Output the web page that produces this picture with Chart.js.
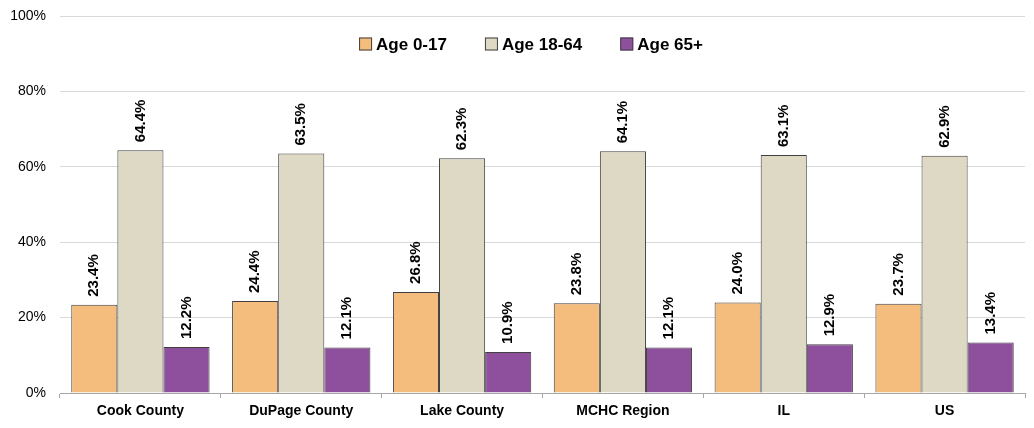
<!DOCTYPE html>
<html>
<head>
<meta charset="utf-8">
<script src="https://cdn.jsdelivr.net/npm/chart.js@4"></script>
<style>
  html, body { margin: 0; padding: 0; background: #fff; }
  #wrap { width: 1034px; height: 428px; }
</style>
</head>
<body>
<div id="wrap"><canvas id="ages" width="1034" height="428"></canvas></div>
<script>
// categories and series (percent of population)
const regions = ["Cook County", "DuPage County", "Lake County", "MCHC Region", "IL", "US"];
const age0to17 = [23.4, 24.4, 26.8, 23.8, 24.0, 23.7];
const age18to64 = [64.4, 63.5, 62.3, 64.1, 63.1, 62.9];
const age65plus = [12.2, 12.1, 10.9, 12.1, 12.9, 13.4];
const yTicks = [0, 20, 40, 60, 80, 100];

const FONT = "'Liberation Sans', Arial, sans-serif";

// rotated value labels above each bar
const barLabels = {
  id: "barLabels",
  afterDatasetsDraw(chart) {
    const ctx = chart.ctx;
    ctx.save();
    ctx.font = "bold 15px " + FONT;
    ctx.fillStyle = "#000";
    ctx.textAlign = "left";
    ctx.textBaseline = "middle";
    chart.data.datasets.forEach((ds, i) => {
      chart.getDatasetMeta(i).data.forEach((bar, j) => {
        ctx.save();
        ctx.translate(bar.x, bar.y - 8);
        ctx.rotate(-Math.PI / 2);
        ctx.fillText(ds.data[j].toFixed(1) + "%", 0, 0);
        ctx.restore();
      });
    });
    ctx.restore();
  }
};

// legend drawn inside the plot, between 80% and 100%
const innerLegend = {
  id: "innerLegend",
  afterDraw(chart) {
    const ctx = chart.ctx;
    const box = 13, gapText = 4, gapItem = 38;
    ctx.save();
    ctx.font = "bold 17px " + FONT;
    ctx.textBaseline = "middle";
    const items = chart.data.datasets.map(ds => ({ label: ds.label, color: ds.backgroundColor, w: box + gapText + ctx.measureText(ds.label).width }));
    const total = items.reduce((s, it) => s + it.w, 0) + gapItem * (items.length - 1);
    let x = 531 - total / 2;
    const y = 44;
    items.forEach(it => {
      ctx.fillStyle = it.color;
      ctx.fillRect(x, y - box / 2, box, box);
      ctx.strokeStyle = "#404040";
      ctx.lineWidth = 1;
      ctx.strokeRect(x + 0.5, y - box / 2 + 0.5, box - 1, box - 1);
      ctx.fillStyle = "#000";
      ctx.fillText(it.label, x + box + gapText, y + 1);
      x += it.w + gapItem;
    });
    ctx.restore();
  }
};

new Chart(document.getElementById("ages").getContext("2d"), {
  type: "bar",
  data: {
    labels: regions,
    datasets: [
      { label: "Age 0-17", data: age0to17, backgroundColor: "#F4BD7E", borderColor: "#404040", borderWidth: 1 },
      { label: "Age 18-64", data: age18to64, backgroundColor: "#DDD9C4", borderColor: "#404040", borderWidth: 1 },
      { label: "Age 65+", data: age65plus, backgroundColor: "#8E4F9D", borderColor: "#404040", borderWidth: 1 }
    ]
  },
  options: {
    responsive: false,
    animation: false,
    layout: { padding: { top: 16, right: 9, left: 0, bottom: 0 } },
    categoryPercentage: 0.86,
    barPercentage: 1.0,
    plugins: {
      legend: { display: false },
      tooltip: { enabled: false }
    },
    scales: {
      x: {
        grid: { offset: true, drawOnChartArea: false, drawTicks: true, tickLength: 5, color: "#A6A6A6" },
        border: { color: "#A6A6A6" },
        ticks: { color: "#000", font: { family: FONT, size: 14, weight: "bold" }, padding: 5 },
        afterFit(axis) { axis.height = 35; }
      },
      y: {
        min: 0,
        max: 100,
        afterBuildTicks(axis) { axis.ticks = yTicks.map(v => ({ value: v })); },
        grid: { color: "#D9D9D9", drawTicks: false },
        border: { display: false },
        ticks: { color: "#000", font: { family: FONT, size: 14 }, padding: 14, callback: v => v + "%" },
        afterFit(axis) { axis.width = 60; axis.paddingTop = 0; axis.paddingBottom = 0; }
      }
    }
  },
  plugins: [barLabels, innerLegend]
});
</script>
</body>
</html>
